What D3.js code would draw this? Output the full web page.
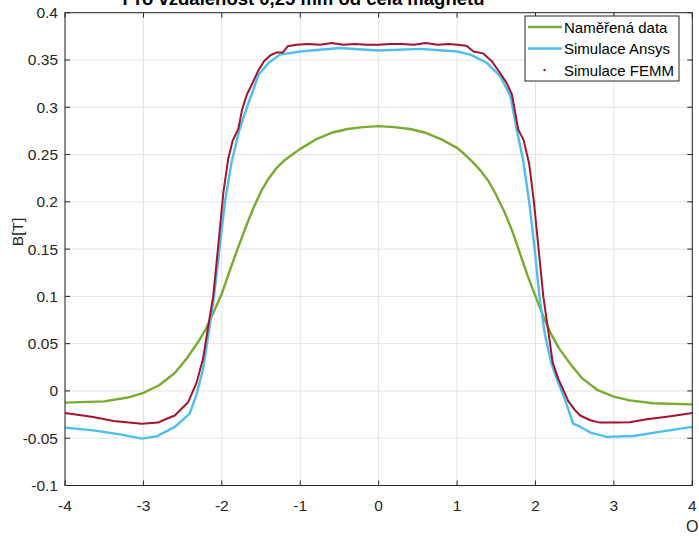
<!DOCTYPE html>
<html>
<head>
<meta charset="utf-8">
<script src="https://cdn.jsdelivr.net/npm/d3@7.9.0/dist/d3.min.js"></script>
<style>
  html, body { margin: 0; padding: 0; background: #fff; overflow: hidden; }
  svg { display: block; font-family: "Liberation Sans", Arial, Helvetica, sans-serif; }
</style>
</head>
<body>
<svg id="chart" width="699" height="537"></svg>
<script>
// ===== DATA =====
const measuredX = [-4, -3.5, -3.2, -3, -2.8, -2.6, -2.45, -2.3, -2.2, -2.1, -2, -1.9, -1.8, -1.7, -1.6, -1.5, -1.4, -1.3, -1.2, -1.1, -1, -0.8, -0.6, -0.4, -0.2, 0, 0.2, 0.4, 0.6, 0.8, 1, 1.1, 1.2, 1.3, 1.4, 1.5, 1.6, 1.7, 1.8, 1.9, 2, 2.1, 2.2, 2.3, 2.45, 2.6, 2.8, 3, 3.2, 3.5, 4];
const measuredB = [-0.0124, -0.011, -0.007, -0.002, 0.006, 0.019, 0.034, 0.052, 0.066, 0.084, 0.103, 0.127, 0.15, 0.172, 0.193, 0.211, 0.225, 0.236, 0.244, 0.25, 0.256, 0.266, 0.273, 0.277, 0.279, 0.28, 0.279, 0.277, 0.273, 0.266, 0.257, 0.25, 0.242, 0.233, 0.222, 0.207, 0.19, 0.17, 0.146, 0.122, 0.1, 0.079, 0.06, 0.045, 0.028, 0.013, 0.0005, -0.006, -0.01, -0.013, -0.0142];

const ansysX = [-4, -3.64, -3.3, -3.02, -2.83, -2.6, -2.41, -2.32, -2.24, -2.17, -2.1, -2.03, -1.96, -1.88, -1.78, -1.68, -1.6, -1.53, -1.4, -1.26, -1, -0.5, 0, 0.53, 1, 1.17, 1.38, 1.55, 1.68, 1.76, 1.84, 1.92, 1.99, 2.05, 2.12, 2.2, 2.27, 2.38, 2.48, 2.57, 2.7, 2.91, 3.25, 3.6, 4];
const ansysB = [-0.0388, -0.0417, -0.046, -0.0504, -0.048, -0.038, -0.024, -0.003, 0.023, 0.06, 0.1, 0.15, 0.2, 0.24, 0.275, 0.3, 0.318, 0.3346, 0.347, 0.3557, 0.359, 0.3627, 0.36, 0.3617, 0.359, 0.3557, 0.347, 0.333, 0.312, 0.277, 0.245, 0.2, 0.15, 0.1, 0.06, 0.03, 0.013, -0.01, -0.0346, -0.0378, -0.044, -0.0486, -0.0476, -0.043, -0.038];

const femmX = [-4, -3.64, -3.38, -3.02, -2.81, -2.75, -2.6, -2.43, -2.32, -2.24, -2.17, -2.11, -2.05, -1.98, -1.92, -1.86, -1.79, -1.74, -1.68, -1.6, -1.54, -1.46, -1.38, -1.3, -1.22, -1.16, -1.05, -0.9, -0.75, -0.6, -0.45, -0.3, -0.15, 0, 0.15, 0.3, 0.45, 0.6, 0.75, 0.9, 1, 1.12, 1.21, 1.33, 1.44, 1.55, 1.63, 1.7, 1.78, 1.85, 1.92, 1.98, 2.04, 2.1, 2.16, 2.22, 2.29, 2.36, 2.42, 2.5, 2.57, 2.7, 2.82, 3.04, 3.2, 3.42, 3.7, 4];
const femmB = [-0.0233, -0.0275, -0.0317, -0.0346, -0.0335, -0.031, -0.026, -0.012, 0.0094, 0.034, 0.07, 0.1, 0.15, 0.21, 0.245, 0.265, 0.277, 0.298, 0.3135, 0.327, 0.338, 0.349, 0.355, 0.358, 0.358, 0.3645, 0.366, 0.367, 0.366, 0.368, 0.366, 0.367, 0.366, 0.366, 0.367, 0.367, 0.366, 0.368, 0.366, 0.367, 0.366, 0.365, 0.359, 0.357, 0.349, 0.336, 0.326, 0.3135, 0.2766, 0.265, 0.24, 0.2, 0.15, 0.1, 0.065, 0.03, 0.013, 0, -0.011, -0.02, -0.026, -0.031, -0.0335, -0.0335, -0.033, -0.03, -0.027, -0.0233];

const xTicks = [-4, -3, -2, -1, 0, 1, 2, 3, 4];
const yTicks = [-0.1, -0.05, 0, 0.05, 0.1, 0.15, 0.2, 0.25, 0.3, 0.35, 0.4];
const seriesNames = ["Naměřená data", "Simulace Ansys", "Simulace FEMM"];
const titleText = "Pro vzdálenost 0,25 mm od čela magnetu";

// ===== LAYOUT =====
const svg = d3.select("#chart");
const plot = { left: 65, right: 692.3, top: 12.7, bottom: 485.5 };
const axisColor = "#262626";
const gridColor = "#e3e3e3";

const x = d3.scaleLinear().domain([-4, 4]).range([plot.left, plot.right]);
const y = d3.scaleLinear().domain([-0.1, 0.4]).range([plot.bottom, plot.top]);

// grid
const grid = svg.append("g");
grid.selectAll(".gx").data(xTicks).enter().append("line")
  .attr("x1", d => x(d)).attr("x2", d => x(d))
  .attr("y1", plot.top).attr("y2", plot.bottom)
  .attr("stroke", gridColor).attr("stroke-width", 1);
grid.selectAll(".gy").data(yTicks).enter().append("line")
  .attr("x1", plot.left).attr("x2", plot.right)
  .attr("y1", d => y(d)).attr("y2", d => y(d))
  .attr("stroke", gridColor).attr("stroke-width", 1);

// series
const zip = (xs, ys) => xs.map((v, i) => [v, ys[i]]);
const line = d3.line().x(d => x(d[0])).y(d => y(d[1]));

svg.append("path")
  .datum(zip(measuredX, measuredB))
  .attr("fill", "none").attr("stroke", "#77AC30").attr("stroke-width", 2.4)
  .attr("stroke-linejoin", "round")
  .attr("d", line);

svg.append("path")
  .datum(zip(ansysX, ansysB))
  .attr("fill", "none").attr("stroke", "#4DBEEE").attr("stroke-width", 2.4)
  .attr("stroke-linejoin", "round")
  .attr("d", line);

svg.append("path")
  .datum(zip(femmX, femmB))
  .attr("fill", "none").attr("stroke", "#A2142F").attr("stroke-width", 2)
  .attr("stroke-linejoin", "round")
  .attr("d", line);

// axes box + ticks (MATLAB style, ticks inside on all sides)
const axes = svg.append("g");
axes.append("rect")
  .attr("x", plot.left).attr("y", plot.top)
  .attr("width", plot.right - plot.left).attr("height", plot.bottom - plot.top)
  .attr("fill", "none").attr("stroke", axisColor).attr("stroke-width", 1);

const tickLen = 5;
xTicks.forEach(t => {
  axes.append("line").attr("x1", x(t)).attr("x2", x(t))
    .attr("y1", plot.bottom).attr("y2", plot.bottom - tickLen).attr("stroke", axisColor);
  axes.append("line").attr("x1", x(t)).attr("x2", x(t))
    .attr("y1", plot.top).attr("y2", plot.top + tickLen).attr("stroke", axisColor);
});
yTicks.forEach(t => {
  axes.append("line").attr("x1", plot.left).attr("x2", plot.left + tickLen)
    .attr("y1", y(t)).attr("y2", y(t)).attr("stroke", axisColor);
  axes.append("line").attr("x1", plot.right).attr("x2", plot.right - tickLen)
    .attr("y1", y(t)).attr("y2", y(t)).attr("stroke", axisColor);
});

// tick labels
axes.selectAll(".xl").data(xTicks).enter().append("text")
  .attr("x", d => x(d)).attr("y", plot.bottom + 25)
  .attr("text-anchor", "middle").attr("font-size", "15.5px").attr("fill", axisColor)
  .text(d => d);
axes.selectAll(".yl").data(yTicks).enter().append("text")
  .attr("x", plot.left - 7).attr("y", d => y(d) + 5.5)
  .attr("text-anchor", "end").attr("font-size", "15.5px").attr("fill", axisColor)
  .text(d => d);

// axis labels
svg.append("text")
  .attr("transform", "translate(23,232) rotate(-90)")
  .attr("text-anchor", "middle").attr("font-size", "15.5px").attr("fill", axisColor)
  .text("B[T]");
svg.append("text")
  .attr("x", 686).attr("y", 532)
  .attr("font-size", "16px").attr("fill", axisColor)
  .text("O");

// title (clipped at the top in the original)
svg.append("text")
  .attr("x", 303.5).attr("y", 5)
  .attr("text-anchor", "middle").attr("font-size", "18.5px").attr("font-weight", "bold")
  .attr("fill", "#000")
  .text(titleText);

// ===== LEGEND =====
const legend = svg.append("g").attr("transform", "translate(525,16)");
legend.append("rect")
  .attr("width", 154).attr("height", 65)
  .attr("fill", "#fff").attr("stroke", axisColor).attr("stroke-width", 1);
const legendColors = ["#77AC30", "#4DBEEE", "#A2142F"];
seriesNames.forEach((name, i) => {
  const ly = 11 + i * 21.5;
  if (i < 2) {
    legend.append("line")
      .attr("x1", 3).attr("x2", 37).attr("y1", ly).attr("y2", ly)
      .attr("stroke", legendColors[i]).attr("stroke-width", 2.4);
  } else {
    legend.append("circle")
      .attr("cx", 19.5).attr("cy", ly).attr("r", 1.2)
      .attr("fill", legendColors[i]);
  }
  legend.append("text")
    .attr("x", 39).attr("y", ly + 5.5)
    .attr("font-size", "15px").attr("fill", "#000")
    .text(name);
});
</script>
</body>
</html>
